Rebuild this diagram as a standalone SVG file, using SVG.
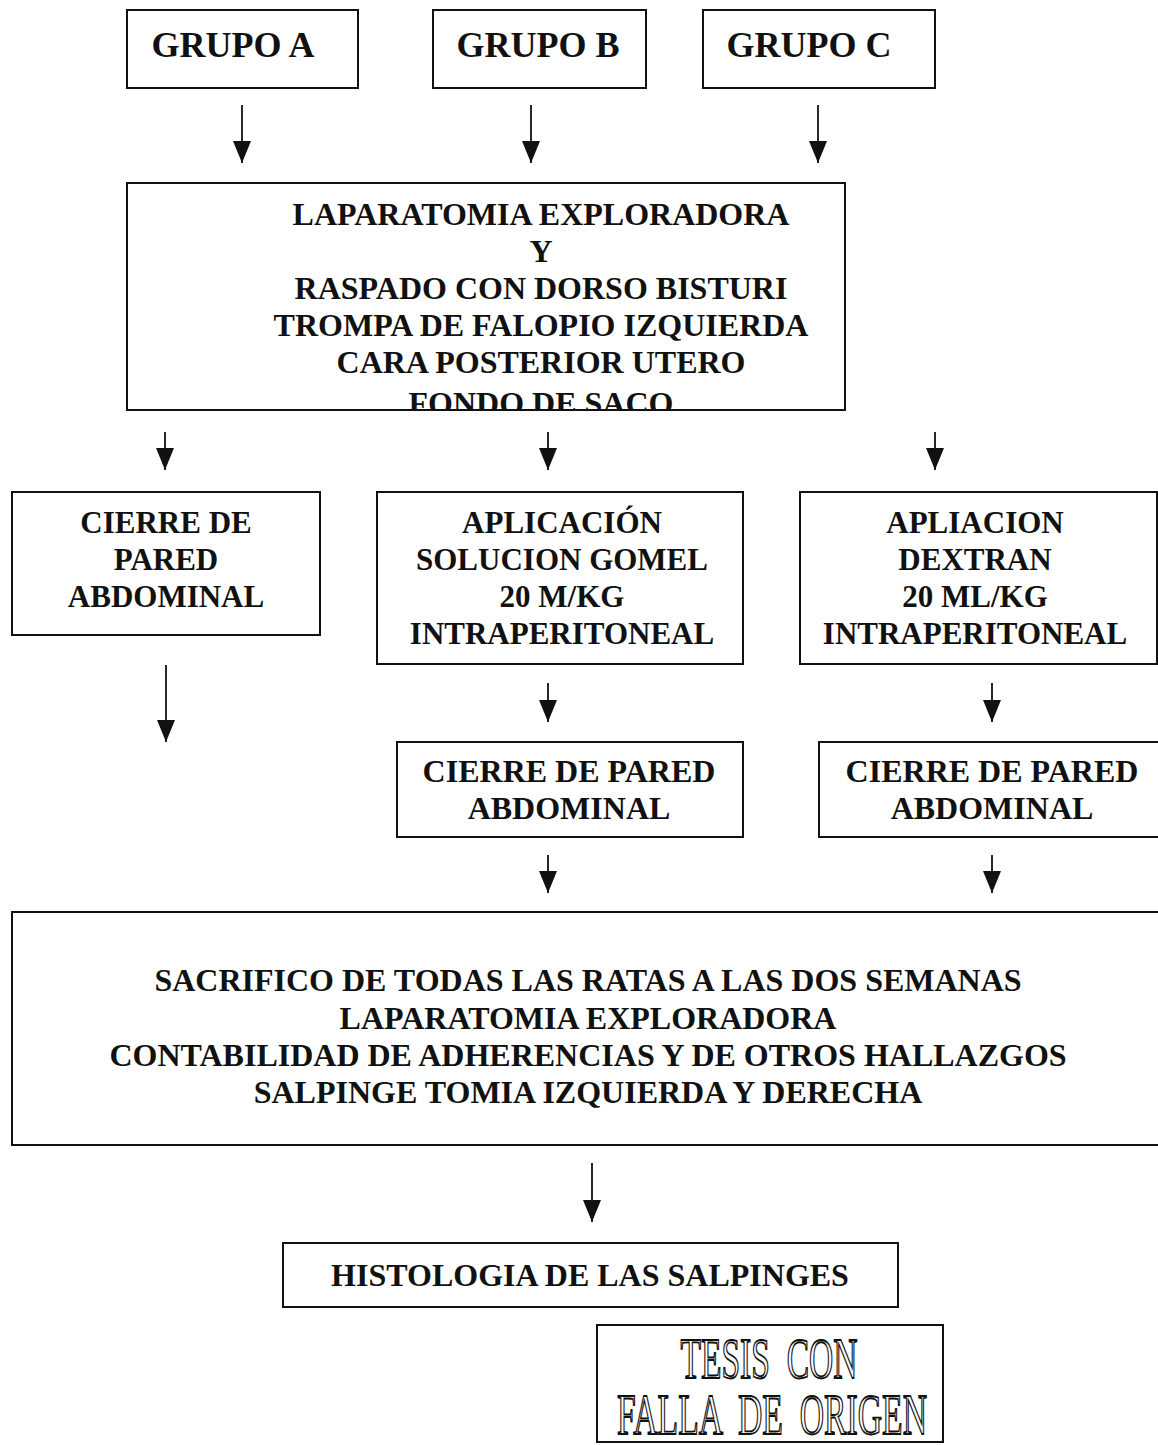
<svg xmlns="http://www.w3.org/2000/svg" width="1158" height="1445" viewBox="0 0 1158 1445">
<style>
.box{fill:none;stroke:#111;stroke-width:2}
.t{font-family:"Liberation Serif","Times New Roman",serif;font-weight:bold;fill:#111;text-anchor:middle}
.g{font-size:36px}
.m{font-size:32px}
.r{font-size:31px}
.conn line{stroke:#111;stroke-width:1.8;marker-end:url(#ah)}
.st{font-family:"Liberation Serif","Times New Roman",serif;font-size:58px;fill:#fff;stroke:#111;stroke-width:1.8;text-anchor:middle}
</style>
<defs>
<marker id="ah" markerUnits="userSpaceOnUse" markerWidth="22" markerHeight="18" refX="22" refY="9" orient="auto">
<path d="M0,0 L22,9 L0,18 z" fill="#111"/>
</marker>
<clipPath id="mainclip"><rect x="127" y="183" width="718" height="226"/></clipPath>
</defs>

<g id="grupo-a">
<rect class="box" x="127" y="10" width="231" height="78"/>
<text class="t g" x="233" y="57">GRUPO A</text>
</g>
<g id="grupo-b">
<rect class="box" x="433" y="10" width="213" height="78"/>
<text class="t g" x="538" y="57">GRUPO B</text>
</g>
<g id="grupo-c">
<rect class="box" x="703" y="10" width="232" height="78"/>
<text class="t g" x="809" y="57">GRUPO C</text>
</g>

<g id="laparatomia">
<rect class="box" x="127" y="183" width="718" height="227"/>
<g clip-path="url(#mainclip)">
<text class="t m" x="541" y="225">LAPARATOMIA EXPLORADORA</text>
<text class="t m" x="541" y="262">Y</text>
<text class="t m" x="541" y="299">RASPADO CON DORSO BISTURI</text>
<text class="t m" x="541" y="336">TROMPA DE FALOPIO IZQUIERDA</text>
<text class="t m" x="541" y="373">CARA POSTERIOR UTERO</text>
<text class="t m" x="541" y="414">FONDO DE SACO</text>
</g>
</g>

<g id="cierre-a">
<rect class="box" x="12" y="492" width="308" height="143"/>
<text class="t r" x="166" y="533">CIERRE DE</text>
<text class="t r" x="166" y="570">PARED</text>
<text class="t r" x="166" y="607">ABDOMINAL</text>
</g>
<g id="aplicacion-gomel">
<rect class="box" x="377" y="492" width="366" height="172"/>
<text class="t r" x="562" y="533">APLICACIÓN</text>
<text class="t r" x="562" y="570">SOLUCION GOMEL</text>
<text class="t r" x="562" y="607">20 M/KG</text>
<text class="t r" x="562" y="644">INTRAPERITONEAL</text>
</g>
<g id="aplicacion-dextran">
<rect class="box" x="800" y="492" width="357" height="172"/>
<text class="t r" x="975" y="533">APLIACION</text>
<text class="t r" x="975" y="570">DEXTRAN</text>
<text class="t r" x="975" y="607">20 ML/KG</text>
<text class="t r" x="975" y="644">INTRAPERITONEAL</text>
</g>

<g id="cierre-b">
<rect class="box" x="397" y="742" width="346" height="95"/>
<text class="t m" x="569" y="782">CIERRE DE PARED</text>
<text class="t m" x="569" y="819">ABDOMINAL</text>
</g>
<g id="cierre-c">
<rect class="box" x="819" y="742" width="343" height="95"/>
<text class="t m" x="992" y="782">CIERRE DE PARED</text>
<text class="t m" x="992" y="819">ABDOMINAL</text>
</g>

<g id="sacrificio">
<rect class="box" x="12" y="912" width="1150" height="233"/>
<text class="t m" x="588" y="991">SACRIFICO DE TODAS LAS RATAS A LAS DOS SEMANAS</text>
<text class="t m" x="588" y="1029">LAPARATOMIA EXPLORADORA</text>
<text class="t m" x="588" y="1066">CONTABILIDAD DE ADHERENCIAS Y DE OTROS HALLAZGOS</text>
<text class="t m" x="588" y="1103">SALPINGE TOMIA IZQUIERDA Y DERECHA</text>
</g>

<g id="histologia">
<rect class="box" x="283" y="1243" width="615" height="64"/>
<text class="t m" x="590" y="1286">HISTOLOGIA DE LAS SALPINGES</text>
</g>

<g id="sello">
<rect class="box" x="597" y="1325" width="346" height="117"/>
<text class="st" x="769" y="1378" textLength="177" lengthAdjust="spacingAndGlyphs" xml:space="preserve">TESIS  CON</text>
<text class="st" x="772" y="1434" textLength="310" lengthAdjust="spacingAndGlyphs" xml:space="preserve">FALLA  DE  ORIGEN</text>
</g>

<g id="connectors" class="conn">
<line x1="242" y1="105" x2="242" y2="163"/>
<line x1="531" y1="105" x2="531" y2="163"/>
<line x1="818" y1="105" x2="818" y2="163"/>
<line x1="165" y1="432" x2="165" y2="470"/>
<line x1="548" y1="432" x2="548" y2="470"/>
<line x1="935" y1="432" x2="935" y2="470"/>
<line x1="166" y1="665" x2="166" y2="742"/>
<line x1="548" y1="683" x2="548" y2="722"/>
<line x1="992" y1="683" x2="992" y2="722"/>
<line x1="548" y1="855" x2="548" y2="893"/>
<line x1="992" y1="855" x2="992" y2="893"/>
<line x1="592" y1="1163" x2="592" y2="1222"/>
</g>
</svg>
